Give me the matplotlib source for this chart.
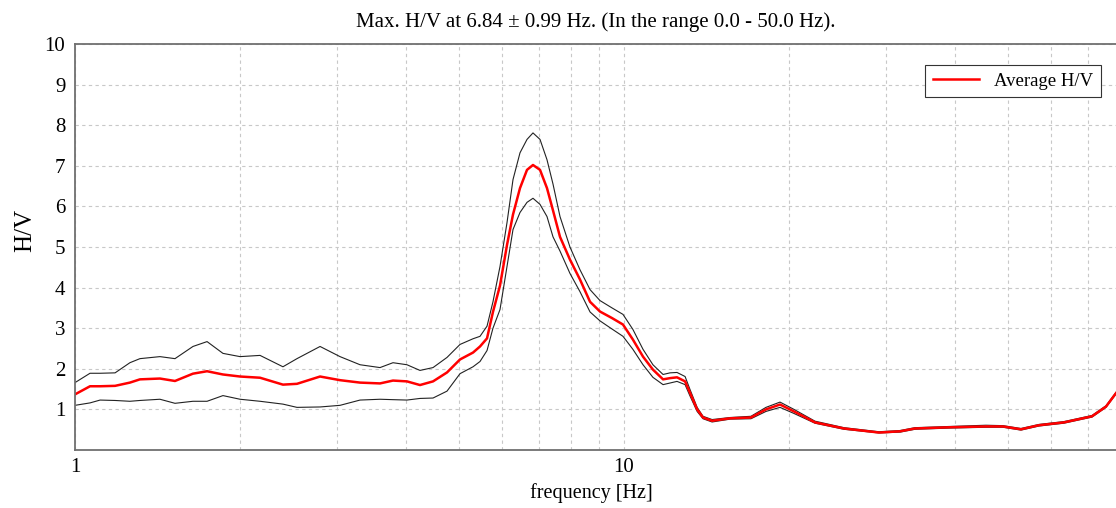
import numpy as np
import matplotlib
matplotlib.use("Agg")
import matplotlib.pyplot as plt
from matplotlib.ticker import FixedLocator, NullFormatter, LogLocator, FuncFormatter

plt.rcParams['font.family'] = ['Liberation Serif', 'DejaVu Serif']

# frequency [Hz]
freq = [1.000, 1.065, 1.111, 1.183, 1.259, 1.313, 1.428, 1.521, 1.640, 1.740,
        1.860, 1.998, 2.173, 2.392, 2.537, 2.795, 3.039, 3.305, 3.594, 3.795,
        4.024, 4.250, 4.489, 4.760, 5.027, 5.309, 5.467, 5.630, 5.772, 5.945,
        6.122, 6.278, 6.465, 6.658, 6.827, 7.031, 7.240, 7.425, 7.646, 7.972,
        8.314, 8.673, 9.043, 9.509, 9.958, 10.38, 10.83, 11.29, 11.78, 12.13,
        12.49, 12.92, 13.19, 13.59, 13.93, 14.47, 15.60, 17.03, 18.14, 19.24,
        20.40, 22.28, 25.16, 29.14, 31.83, 33.88, 39.25, 45.63, 49.01, 52.86,
        57.00, 63.30, 71.19, 75.51, 78.74]

# average H/V
hv_mean = [1.37, 1.57, 1.57, 1.58, 1.66, 1.74, 1.76, 1.70, 1.88, 1.94,
           1.86, 1.81, 1.78, 1.61, 1.63, 1.81, 1.72, 1.66, 1.64, 1.71,
           1.69, 1.60, 1.69, 1.91, 2.23, 2.40, 2.55, 2.75, 3.40, 4.05,
           5.05, 5.80, 6.45, 6.90, 7.02, 6.90, 6.45, 5.90, 5.25, 4.69,
           4.20, 3.65, 3.41, 3.25, 3.09, 2.72, 2.30, 1.98, 1.74, 1.77,
           1.79, 1.69, 1.41, 1.00, 0.80, 0.72, 0.78, 0.80, 1.00, 1.12,
           0.95, 0.68, 0.53, 0.43, 0.46, 0.53, 0.56, 0.58, 0.58, 0.51,
           0.61, 0.68, 0.83, 1.07, 1.40]

# average + std
hv_upper = [1.66, 1.89, 1.89, 1.90, 2.15, 2.25, 2.30, 2.25, 2.55, 2.67,
            2.38, 2.30, 2.33, 2.05, 2.25, 2.55, 2.30, 2.10, 2.03, 2.15,
            2.10, 1.96, 2.03, 2.28, 2.60, 2.74, 2.80, 3.05, 3.65, 4.52,
            5.60, 6.66, 7.32, 7.65, 7.81, 7.65, 7.15, 6.55, 5.75, 5.00,
            4.44, 3.95, 3.68, 3.50, 3.34, 2.97, 2.48, 2.10, 1.86, 1.90,
            1.91, 1.81, 1.49, 1.05, 0.83, 0.75, 0.80, 0.83, 1.05, 1.18,
            1.00, 0.71, 0.55, 0.45, 0.48, 0.55, 0.58, 0.61, 0.60, 0.53,
            0.63, 0.70, 0.85, 1.09, 1.42]

# average - std
hv_lower = [1.10, 1.16, 1.23, 1.22, 1.20, 1.22, 1.25, 1.15, 1.20, 1.20,
            1.34, 1.25, 1.20, 1.13, 1.05, 1.06, 1.10, 1.23, 1.25, 1.24,
            1.23, 1.27, 1.28, 1.45, 1.88, 2.05, 2.18, 2.45, 3.00, 3.46,
            4.52, 5.43, 5.85, 6.10, 6.20, 6.05, 5.75, 5.25, 4.90, 4.35,
            3.90, 3.40, 3.18, 2.98, 2.80, 2.48, 2.10, 1.79, 1.61, 1.65,
            1.69, 1.61, 1.33, 0.95, 0.77, 0.69, 0.76, 0.77, 0.95, 1.05,
            0.90, 0.66, 0.51, 0.42, 0.44, 0.51, 0.54, 0.56, 0.56, 0.49,
            0.59, 0.66, 0.81, 1.05, 1.38]

fig = plt.figure(figsize=(11.16, 5.08), dpi=100)
ax = fig.add_axes([75/1116, 58/508, 1041/1116, 406/508])

ax.plot(freq, hv_upper, color='#222222', lw=0.8)
ax.plot(freq, hv_lower, color='#222222', lw=0.8)
ax.plot(freq, hv_mean, color='#ff0000', lw=1.8, label='Average H/V')

ax.set_xscale('log')
ax.set_xlim(1, 78.74)
ax.set_ylim(0, 10)
ax.set_yticks(range(1, 11))
ax.xaxis.set_major_locator(FixedLocator([1, 10]))
ax.xaxis.set_major_formatter(FuncFormatter(lambda v, p: '%d' % v))
ax.xaxis.set_minor_locator(LogLocator(base=10, subs=np.arange(2, 10)))
ax.xaxis.set_minor_formatter(NullFormatter())

ax.grid(True, which='both', color='#c8c8c8', linestyle=(0, (3, 3)), linewidth=0.8)
ax.tick_params(which='both', length=0, labelsize=15)
ax.tick_params(axis='x', pad=6)
ax.tick_params(axis='y', pad=7)

for s in ['left', 'bottom', 'top']:
    ax.spines[s].set_color('#707070')
    ax.spines[s].set_linewidth(1.3)
ax.spines['right'].set_visible(False)

ax.set_title('Max. H/V at 6.84 \u00b1 0.99 Hz. (In the range 0.0 - 50.0 Hz).',
             fontsize=15, pad=12)
ax.set_xlabel('frequency [Hz]', fontsize=14.5)
ax.xaxis.set_label_coords(0.4958, -0.082)
ax.set_ylabel('H/V', fontsize=18)
ax.yaxis.set_label_coords(-0.0375, 0.54)

leg = ax.legend(loc='upper right', bbox_to_anchor=(0.9856, 0.948), borderaxespad=0,
                fontsize=13.5, fancybox=False, framealpha=1, handlelength=2.5)
leg.get_frame().set_edgecolor('#333333')
leg.get_frame().set_linewidth(0.8)

fig.savefig('out.png', dpi=100)
